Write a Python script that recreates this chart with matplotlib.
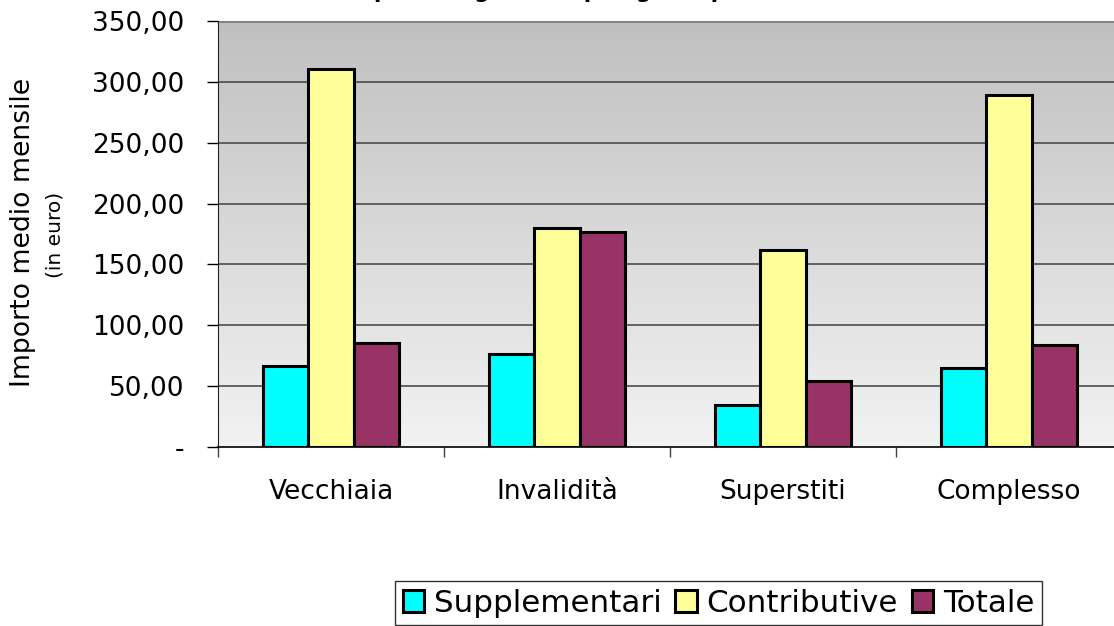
import numpy as np
import matplotlib
matplotlib.use("Agg")
import matplotlib.pyplot as plt
from matplotlib.colors import LinearSegmentedColormap

categorie = ["Vecchiaia", "Invalidità", "Superstiti", "Complesso"]
supplementari = [66.6, 76.2, 34.3, 65.2]
contributive = [310.6, 180.3, 161.8, 289.5]
totale = [85.3, 176.8, 54.3, 84.1]
serie = ["Supplementari", "Contributive", "Totale"]
colori = ["#00FFFF", "#FFFF99", "#993366"]
yticks = [0, 50, 100, 150, 200, 250, 300, 350]

plt.rcParams['font.family'] = ['DejaVu Sans']

fig = plt.figure(figsize=(11.14, 6.26), dpi=100)
W, H = 1114, 626
# plot area runs past the right edge, as in the original
ax = fig.add_axes([218 / W, 1 - 447 / H, 904 / W, 426 / H])

x = np.arange(len(categorie))
w = 0.2
for i, (vals, col, nome) in enumerate(zip([supplementari, contributive, totale], colori, serie)):
    ax.bar(x + (i - 1) * w, vals, width=w, color=col, edgecolor='black',
           linewidth=2.2, label=nome, zorder=3)

ax.set_xlim(-0.5, 3.5)
ax.set_ylim(0, 350)

# gradient background
grad = np.linspace(0, 1, 256).reshape(-1, 1)
cmap = LinearSegmentedColormap.from_list("bg", ["#f2f2f2", "#c0c0c0"])
ax.imshow(grad, cmap=cmap, aspect='auto', origin='lower',
          extent=[-0.5, 3.5, 0, 350], zorder=0)

for y in yticks[1:-1]:
    ax.axhline(y, color='#404040', lw=1.1, zorder=1)
ax.axhline(350, color='#808080', lw=2, zorder=1)

ax.set_yticks(yticks)
ax.set_yticklabels(["-"] + [f"{v:.2f}".replace(".", ",") for v in yticks[1:]])
ax.tick_params(axis='y', direction='out', length=8, width=1, pad=16,
               labelsize=19, color='black')

ax.set_xticks(x)
ax.set_xticklabels(categorie)
ax.set_xticks(np.arange(-0.5, 3.5, 1.0), minor=True)
ax.tick_params(axis='x', which='major', length=0, pad=23, labelsize=19)
ax.tick_params(axis='x', which='minor', direction='out', length=7, width=1, color='#404040')

for s in ['top', 'right']:
    ax.spines[s].set_visible(False)
ax.spines['left'].set_color('#202020')
ax.spines['bottom'].set_color('black')
ax.spines['bottom'].set_linewidth(1.2)

fig.text(23 / W, 1 - 232 / H, "Importo medio mensile", rotation=90,
         ha='center', va='center', fontsize=19.2)
fig.text(55 / W, 1 - 235 / H, "(in euro)", rotation=90,
         ha='center', va='center', fontsize=14.5)

# title, cut at the top edge
fig.text(597 / W, 1.0 + 2 / H, "per categoria e tipologia di pensione",
         ha='center', va='baseline', fontsize=15.5, fontweight='bold')

leg = fig.legend(loc='upper left', bbox_to_anchor=(395 / W, 1 - 581 / H),
                 ncol=3, fontsize=22.3, frameon=True, fancybox=False,
                 edgecolor='black', handlelength=0.7, handleheight=0.7,
                 handletextpad=0.3, columnspacing=0.45, borderpad=0.25,
                 borderaxespad=0)
leg.get_frame().set_linewidth(1)

fig.savefig("out.png", dpi=100)
